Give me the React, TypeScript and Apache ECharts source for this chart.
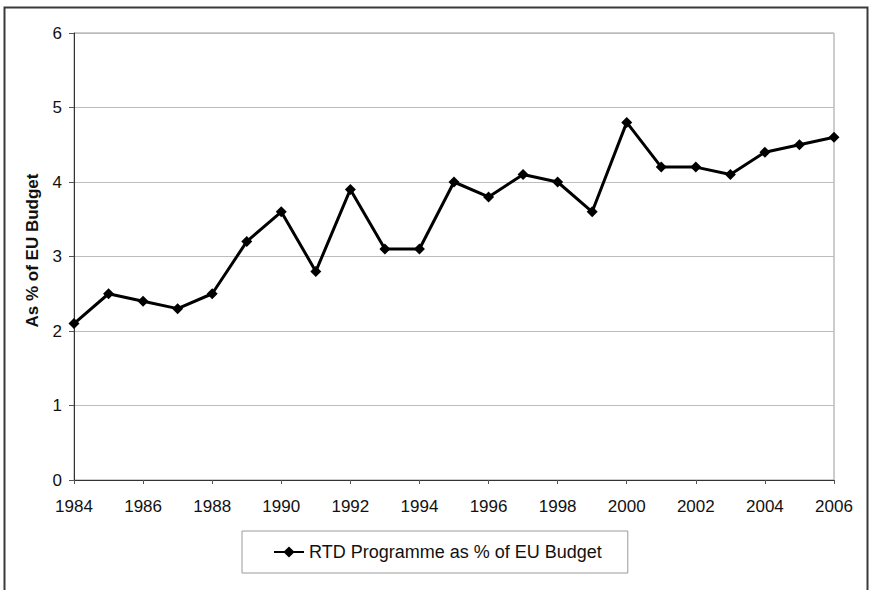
import React, { useEffect, useRef } from "react";
import * as echarts from "echarts";

const years = [
  "1984", "1985", "1986", "1987", "1988", "1989", "1990", "1991", "1992", "1993", "1994", "1995",
  "1996", "1997", "1998", "1999", "2000", "2001", "2002", "2003", "2004", "2005", "2006",
];
const rtdShare = [
  2.1, 2.5, 2.4, 2.3, 2.5, 3.2, 3.6, 2.8, 3.9, 3.1, 3.1, 4.0,
  3.8, 4.1, 4.0, 3.6, 4.8, 4.2, 4.2, 4.1, 4.4, 4.5, 4.6,
];
const seriesName = "RTD Programme as % of EU Budget";
const yAxisTitle = "As % of EU Budget";

export default function App() {
  const ref = useRef<HTMLDivElement>(null);
  useEffect(() => {
    if (!ref.current) return;
    const chart = echarts.init(ref.current, undefined, { renderer: "svg" });
    const font = "'Liberation Sans', Arial, sans-serif";
    chart.setOption({
      animation: false,
      backgroundColor: "#ffffff",
      textStyle: { fontFamily: font },
      graphic: [
        {
          type: "rect",
          shape: { x: 4.5, y: 7.5, width: 863, height: 620 },
          style: { fill: "none", stroke: "#3a3a3a", lineWidth: 2 },
          silent: true,
        },
      ],
      grid: {
        left: 74,
        top: 33,
        right: 35,
        bottom: 110,
        show: true,
        borderColor: "#9a9a9a",
        borderWidth: 1,
        backgroundColor: "transparent",
      },
      legend: {
        left: 242,
        top: 531,
        itemWidth: 30,
        itemHeight: 14,
        itemGap: 5,
        padding: [12, 26, 12, 31],
        borderColor: "#9a9a9a",
        borderWidth: 1,
        textStyle: { fontFamily: font, fontSize: 18, color: "#111" },
        data: [seriesName],
      },
      xAxis: {
        type: "category",
        data: years,
        boundaryGap: false,
        axisLine: { lineStyle: { color: "#333", width: 1 } },
        axisTick: { show: true, interval: 1, length: 4, lineStyle: { color: "#555" } },
        axisLabel: { interval: 1, fontSize: 17, color: "#111", margin: 18, fontFamily: font },
        splitLine: { show: false },
      },
      yAxis: {
        type: "value",
        min: 0,
        max: 6,
        interval: 1,
        name: yAxisTitle,
        nameLocation: "middle",
        nameGap: 33,
        nameTextStyle: { fontSize: 17, fontWeight: "bold", color: "#111", fontFamily: font, padding: [0, 0, 0, 12] },
        axisLine: { show: true, lineStyle: { color: "#333", width: 1 } },
        axisTick: { show: true, length: 5, lineStyle: { color: "#555" } },
        axisLabel: { fontSize: 17, color: "#111", margin: 12, fontFamily: font },
        splitLine: { show: true, lineStyle: { color: "#bdbdbd", width: 1 } },
      },
      series: [
        {
          name: seriesName,
          type: "line",
          data: rtdShare,
          symbol: "diamond",
          symbolSize: 11,
          lineStyle: { color: "#000", width: 3 },
          itemStyle: { color: "#000" },
          z: 5,
        },
      ],
    });
    return () => chart.dispose();
  }, []);
  return (
    <div
      ref={ref}
      style={{ position: "fixed", left: 0, top: 0, width: 869, height: 590 }}
    />
  );
}
